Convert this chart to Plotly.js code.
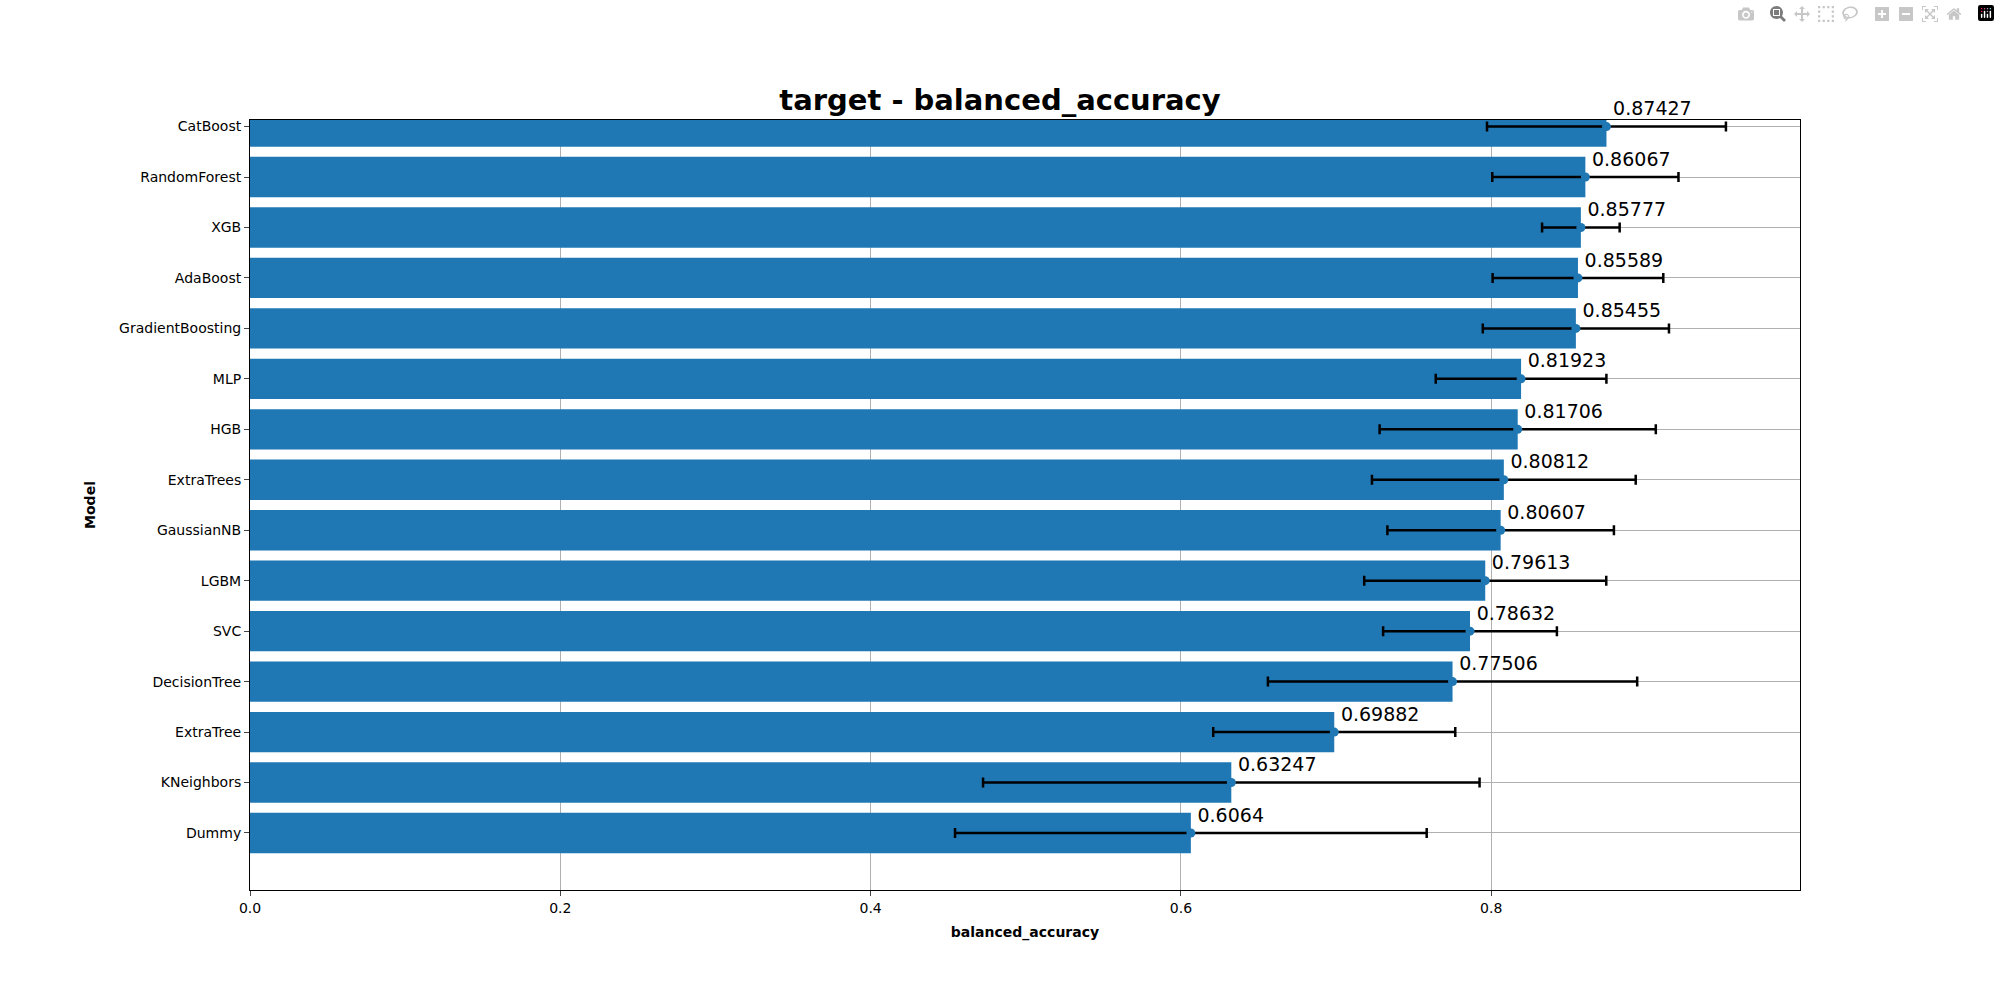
<!DOCTYPE html>
<html>
<head>
<script src="https://cdn.plot.ly/plotly-3.0.1.min.js"></script>
</head>
<body style="margin:0">
<div id="chart" style="width:2000px;height:1000px"></div>
<script>
// bottom to top
var models = ['Dummy','KNeighbors','ExtraTree','DecisionTree','SVC','LGBM','GaussianNB','ExtraTrees','HGB','MLP','GradientBoosting','AdaBoost','XGB','RandomForest','CatBoost']
var scores = [0.6064,0.63247,0.69882,0.77506,0.78632,0.79613,0.80607,0.80812,0.81706,0.81923,0.85455,0.85589,0.85777,0.86067,0.87427]
var errs = [0.152,0.16,0.078,0.119,0.056,0.078,0.073,0.085,0.089,0.055,0.06,0.055,0.025,0.06,0.077]
var labels = ['0.6064','0.63247','0.69882','0.77506','0.78632','0.79613','0.80607','0.80812','0.81706','0.81923','0.85455','0.85589','0.85777','0.86067','0.87427']

var font = 'DejaVu Sans, sans-serif'
var data = [
    {
        type: 'bar', orientation: 'h',
        x: scores, y: models,
        width: 0.8,
        marker: {color: '#1f77b4'},
        hoverinfo: 'none'
    },
    {
        type: 'scatter', mode: 'markers+text',
        x: scores, y: models,
        marker: {color: '#1f77b4', size: 9},
        error_x: {type: 'data', array: errs, visible: true, color: 'black', thickness: 2.5, width: 5},
        text: labels,
        textposition: 'top right',
        textfont: {family: font, size: 19, color: 'black'},
        cliponaxis: false
    }
]
var layout = {
    width: 2000, height: 1000,
    showlegend: false,
    paper_bgcolor: 'white', plot_bgcolor: 'white',
    font: {family: font, size: 14, color: 'black'},
    margin: {l: 250, r: 200, t: 120, b: 110},
    title: {text: '<b>target - balanced_accuracy</b>', font: {family: font, size: 29}, x: 0.5, xanchor: 'center', y: 0.9, yanchor: 'middle'},
    xaxis: {
        range: [0, 0.999],
        tickvals: [0, 0.2, 0.4, 0.6, 0.8],
        ticktext: ['0.0', '0.2', '0.4', '0.6', '0.8'],
        showgrid: true, gridcolor: '#b0b0b0', zeroline: false,
        showline: true, mirror: true, linecolor: 'black',
        ticks: 'outside', ticklen: 5,
        title: {text: '<b>balanced_accuracy</b>', font: {size: 14}, standoff: 12}
    },
    yaxis: {
        type: 'category',
        range: [-1.13, 15.13 - 1],
        showgrid: true, gridcolor: '#b0b0b0', zeroline: false,
        showline: true, mirror: true, linecolor: 'black',
        ticks: 'outside', ticklen: 5,
        title: {text: '<b>Model</b>', font: {size: 14}, standoff: 20}
    }
}
Plotly.newPlot('chart', data, layout)
</script>
</body>
</html>
